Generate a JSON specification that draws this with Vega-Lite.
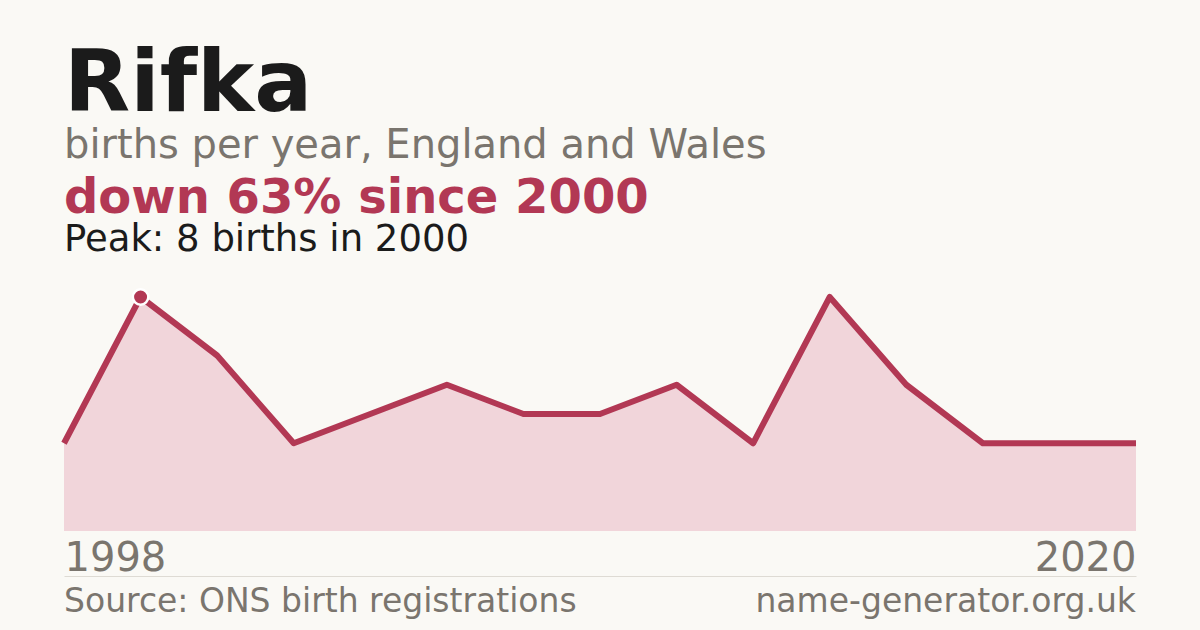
{
  "$schema": "https://vega.github.io/schema/vega-lite/v6.json",
  "background": "#faf9f5",
  "padding": {"left": 61, "right": 61, "top": 42, "bottom": 4},
  "autosize": {"type": "pad"},
  "config": {"view": {"stroke": null}, "font": "DejaVu Sans", "concat": {"spacing": 7}},
  "title": {
    "text": "Rifka",
    "subtitle": "births per year, England and Wales",
    "anchor": "start",
    "frame": "group",
    "baseline": "top",
    "font": "DejaVu Sans",
    "fontSize": 86,
    "fontWeight": "bold",
    "color": "#1b1b1b",
    "subtitleFont": "DejaVu Sans",
    "subtitleFontSize": 40,
    "subtitleColor": "#7a756e",
    "subtitlePadding": -3,
    "offset": 8
  },
  "datasets": {
    "births": [
      {"year": 1998, "births": 3},
      {"year": 2000, "births": 8},
      {"year": 2001, "births": 6},
      {"year": 2003, "births": 3},
      {"year": 2004, "births": 4},
      {"year": 2006, "births": 5},
      {"year": 2007, "births": 4},
      {"year": 2009, "births": 4},
      {"year": 2010, "births": 5},
      {"year": 2012, "births": 3},
      {"year": 2014, "births": 8},
      {"year": 2015, "births": 5},
      {"year": 2017, "births": 3},
      {"year": 2018, "births": 3},
      {"year": 2020, "births": 3}
    ],
    "footer": [
      {"year": 1998, "side": "left", "label": "Source: ONS birth registrations"},
      {"year": 2020, "side": "right", "label": "name-generator.org.uk"}
    ]
  },
  "vconcat": [
    {
      "width": 1072,
      "height": 234,
      "title": {
        "text": "down 63% since 2000",
        "subtitle": "Peak: 8 births in 2000",
        "anchor": "start",
        "frame": "group",
        "baseline": "top",
        "font": "DejaVu Sans",
        "fontSize": 48,
        "fontWeight": "bold",
        "color": "#b23854",
        "subtitleFont": "DejaVu Sans",
        "subtitleFontSize": 37,
        "subtitleColor": "#1b1b1b",
        "subtitlePadding": -1,
        "offset": 26
      },
      "data": {"name": "births"},
      "encoding": {
        "x": {"field": "year", "type": "ordinal", "scale": {"type": "point", "padding": 0}, "axis": null},
        "y": {"field": "births", "type": "quantitative", "scale": {"domain": [0, 8], "nice": false}, "axis": null}
      },
      "layer": [
        {"mark": {"type": "area", "color": "#f1d5da", "clip": false}},
        {"mark": {"type": "line", "color": "#b23854", "strokeWidth": 6, "strokeCap": "butt", "strokeJoin": "round"}},
        {
          "transform": [{"filter": "datum.year == 2000"}],
          "mark": {"type": "point", "filled": true, "size": 240, "color": "#b23854", "stroke": "#ffffff", "strokeWidth": 2.5, "opacity": 1}
        }
      ]
    },
    {
      "width": 1072,
      "height": 51,
      "data": {"name": "footer"},
      "encoding": {
        "x": {
          "field": "year",
          "type": "ordinal",
          "scale": {"type": "point", "padding": 0},
          "axis": {
            "orient": "top",
            "values": [1998, 2020],
            "domain": true,
            "domainColor": "#dedbd4",
            "domainWidth": 1,
            "ticks": false,
            "grid": false,
            "labelFlush": true,
            "labelFont": "DejaVu Sans",
            "labelFontSize": 40,
            "labelColor": "#7a756e",
            "labelPadding": 6,
            "labelBaseline": "alphabetic",
            "labelAngle": 0,
            "title": null
          }
        }
      },
      "layer": [
        {
          "transform": [{"filter": "datum.side == 'left'"}],
          "mark": {"type": "text", "align": "left", "baseline": "middle", "fontSize": 33, "font": "DejaVu Sans", "color": "#7a756e"},
          "encoding": {"text": {"field": "label"}}
        },
        {
          "transform": [{"filter": "datum.side == 'right'"}],
          "mark": {"type": "text", "align": "right", "baseline": "middle", "fontSize": 33, "font": "DejaVu Sans", "color": "#7a756e"},
          "encoding": {"text": {"field": "label"}}
        }
      ]
    }
  ]
}
